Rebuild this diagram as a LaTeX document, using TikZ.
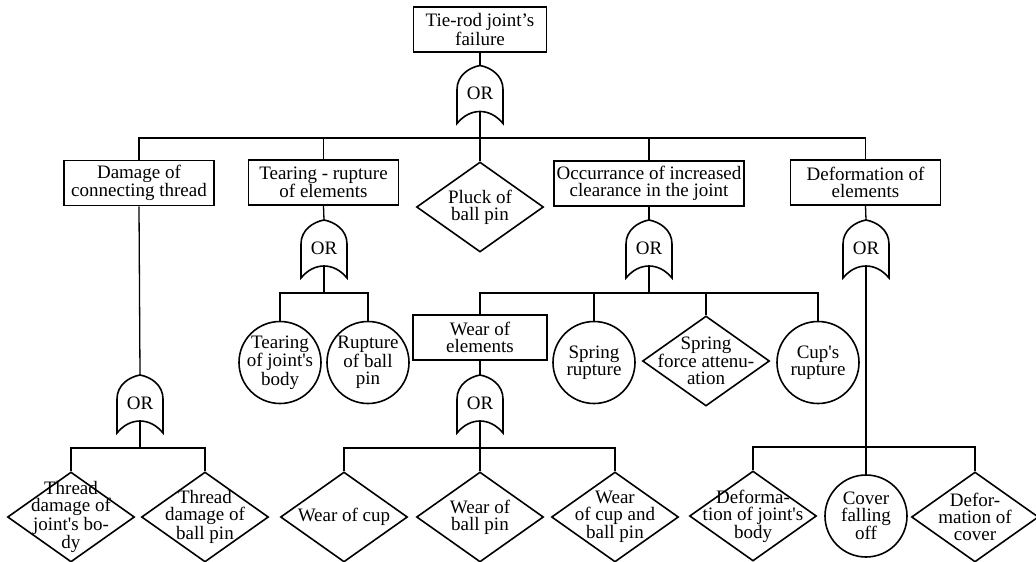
\documentclass[tikz,border=0pt]{standalone}
\usepackage{fontspec}
\setmainfont{Liberation Serif}
\usetikzlibrary{shapes.geometric,positioning}
\newcommand\ap{\textquotesingle}

\tikzset{
  orgate/.pic={
    \draw[gateline] (-23,29) -- (-23,-5) .. controls (-23,-19) and (-11,-27) .. (0,-29)
      .. controls (11,-27) and (23,-19) .. (23,-5) -- (23,29)
      .. controls (10,13) and (-10,13) .. cycle;
    \coordinate (-top) at (0,-29);
    \coordinate (-bot) at (0,17);
    \node[inner sep=0pt] (-txt) at (0,-1) {OR};
  }
}

\begin{document}
\begin{tikzpicture}[x=1pt,y=-1pt,line width=1.3pt,
  every node/.style={font=\fontsize{19}{17}\selectfont,align=center},
  evbox/.style={draw,rectangle,line width=1.6pt,minimum width=150pt,minimum height=45pt,inner xsep=3pt},
  evdiam/.style={draw,diamond,line width=1.6pt,minimum width=127pt,minimum height=90pt,inner sep=0pt,label={center:{#1}}},
  evcirc/.style={draw,circle,line width=1.6pt,minimum size=82pt,inner sep=0pt,label={center:{#1}}},
  gateline/.style={line width=1.6pt}
]
\useasboundingbox (0,0) rectangle (1036,562);

% the top event
\node[evbox,minimum width=133pt] (top) at (480,29.5) {Tie-rod joint's\\failure};
\pic (g0) at (480,94.5) {orgate};
\draw (top.south) -- (g0-top);
\draw (g0-bot) -- +(0,26.5) coordinate (b0);

% the second level
\node[evbox] (d1) at (139,183) {Damage of\\connecting thread};
\node[evbox] (d2) at (323.5,182.5) {Tearing - rupture\\of elements};
\node[evdiam={Pluck of\\ball pin}] (d3) at (480,207) {};
\node[evbox,minimum width=190pt,inner xsep=2pt] (d4) at (649,183.5) {Occurrance of increased\\clearance in the joint};
\node[evbox] (d5) at (865.5,182.5) {Deformation of\\elements};
\foreach \c in {d1,d2,d3,d4,d5}
  \draw (\c.north) |- (b0);

% damage of thread
\pic (g1) at (140,404) {orgate};
\draw (d1.south) -- (g1-top);
\draw (g1-bot) -- +(0,27) coordinate (b1);
\node[evdiam={Thread\\damage of\\joint\ap s bo-\\dy}] (h1) at (71,517) {};
\node[evdiam={Thread\\damage of\\ball pin}] (h2) at (205,517) {};
\foreach \c in {h1,h2}
  \draw (\c.north) |- (b1);

% tearing - rupture
\pic (g2) at (324,249) {orgate};
\draw (d2.south) -- (g2-top);
\draw (g2-bot) -- +(0,27) coordinate (b2);
\node[evcirc={Tearing\\of joint\ap s\\body}] (t1) at (280,362.5) {};
\node[evcirc={Rupture\\of ball\\pin}] (t2) at (368,362.5) {};
\foreach \c in {t1,t2}
  \draw (\c.north) |- (b2);

% increased clearance
\pic (g4) at (649,249) {orgate};
\draw (d4.south) -- (g4-top);
\draw (g4-bot) -- +(0,27) coordinate (b4);
\node[evbox,minimum width=134pt] (c1) at (480,337.5) {Wear of\\elements};
\node[evcirc={Spring\\rupture}] (c2) at (594,362.5) {};
\node[evdiam={Spring\\force attenu-\\ation}] (c3) at (706,361) {};
\node[evcirc={Cup\ap s\\rupture}] (c4) at (818,362.5) {};
\foreach \c in {c1,c2,c3,c4}
  \draw (\c.north) |- (b4);

% wear of elements
\pic (g3) at (480,404) {orgate};
\draw (c1.south) -- (g3-top);
\draw (g3-bot) -- +(0,27) coordinate (b3);
\node[evdiam={Wear of cup}] (w1) at (344,517) {};
\node[evdiam={Wear of\\ball pin}] (w2) at (480,517) {};
\node[evdiam={Wear\\of cup and\\ball pin}] (w3) at (615,517) {};
\foreach \c in {w1,w2,w3}
  \draw (\c.north) |- (b3);

% deformation
\pic (g5) at (866,249) {orgate};
\draw (d5.south) -- (g5-top);
\draw (g5-bot) -- +(0,181) coordinate (b5);
\node[evdiam={Deforma-\\tion of joint\ap s\\body}] (e1) at (753,516) {};
\node[evcirc={Cover\\falling\\off}] (e2) at (866,516) {};
\node[evdiam={Defor-\\mation of\\cover}] (e3) at (975,517) {};
\foreach \c in {e1,e2,e3}
  \draw (\c.north) |- (b5);
\end{tikzpicture}
\end{document}
